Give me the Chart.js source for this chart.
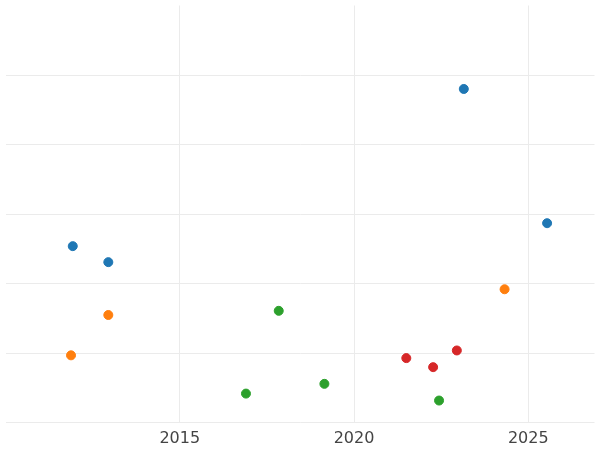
<!DOCTYPE html>
<html>
<head>
<script src="https://cdn.jsdelivr.net/npm/chart.js@4"></script>
<style>body{margin:0;background:#fff}#wrap{width:600px;height:450px}</style>
</head>
<body>
<div id="wrap"><canvas id="c"></canvas></div>
<script>
const blueX = [2011.93, 2012.95, 2023.15, 2025.54];
const blueY = [2.54, 2.31, 4.80, 2.87];
const orangeX = [2011.88, 2012.95, 2024.32];
const orangeY = [0.97, 1.55, 1.92];
const greenX = [2017.84, 2016.90, 2019.15, 2022.44];
const greenY = [1.61, 0.42, 0.56, 0.32];
const redX = [2021.5, 2022.27, 2022.95];
const redY = [0.93, 0.80, 1.04];
const xTicks = [2015, 2020, 2025];

function pts(xs, ys) { return xs.map((x, i) => ({ x: x, y: ys[i] })); }
function ds(xs, ys, color) {
    return { data: pts(xs, ys), backgroundColor: color, borderColor: color, pointRadius: 4.5, pointHoverRadius: 4.5 };
}

new Chart(document.getElementById('c'), {
    type: 'scatter',
    data: {
        datasets: [
            ds(blueX, blueY, '#1f77b4'),
            ds(orangeX, orangeY, '#ff7f0e'),
            ds(greenX, greenY, '#2ca02c'),
            ds(redX, redY, '#d62728')
        ]
    },
    options: {
        responsive: true,
        maintainAspectRatio: false,
        animation: false,
        layout: { padding: { left: 5, top: 0, right: -6, bottom: -4 } },
        plugins: { legend: { display: false }, tooltip: { enabled: false } },
        scales: {
            x: {
                min: 2010, max: 2026.9,
                afterBuildTicks: axis => { axis.ticks = xTicks.map(v => ({ value: v })); },
                grid: { color: '#ebebeb', drawTicks: false },
                border: { display: false },
                ticks: { color: '#444', font: { family: 'DejaVu Sans', size: 16 }, padding: 6,
                         callback: v => String(v) }
            },
            y: {
                min: 0, max: 6,
                ticks: { display: false, stepSize: 1 },
                grid: { color: ctx => ctx.tick.value === 6 ? 'rgba(0,0,0,0)' : '#ebebeb', drawTicks: false },
                border: { display: false }
            }
        }
    }
});
</script>
</body>
</html>
